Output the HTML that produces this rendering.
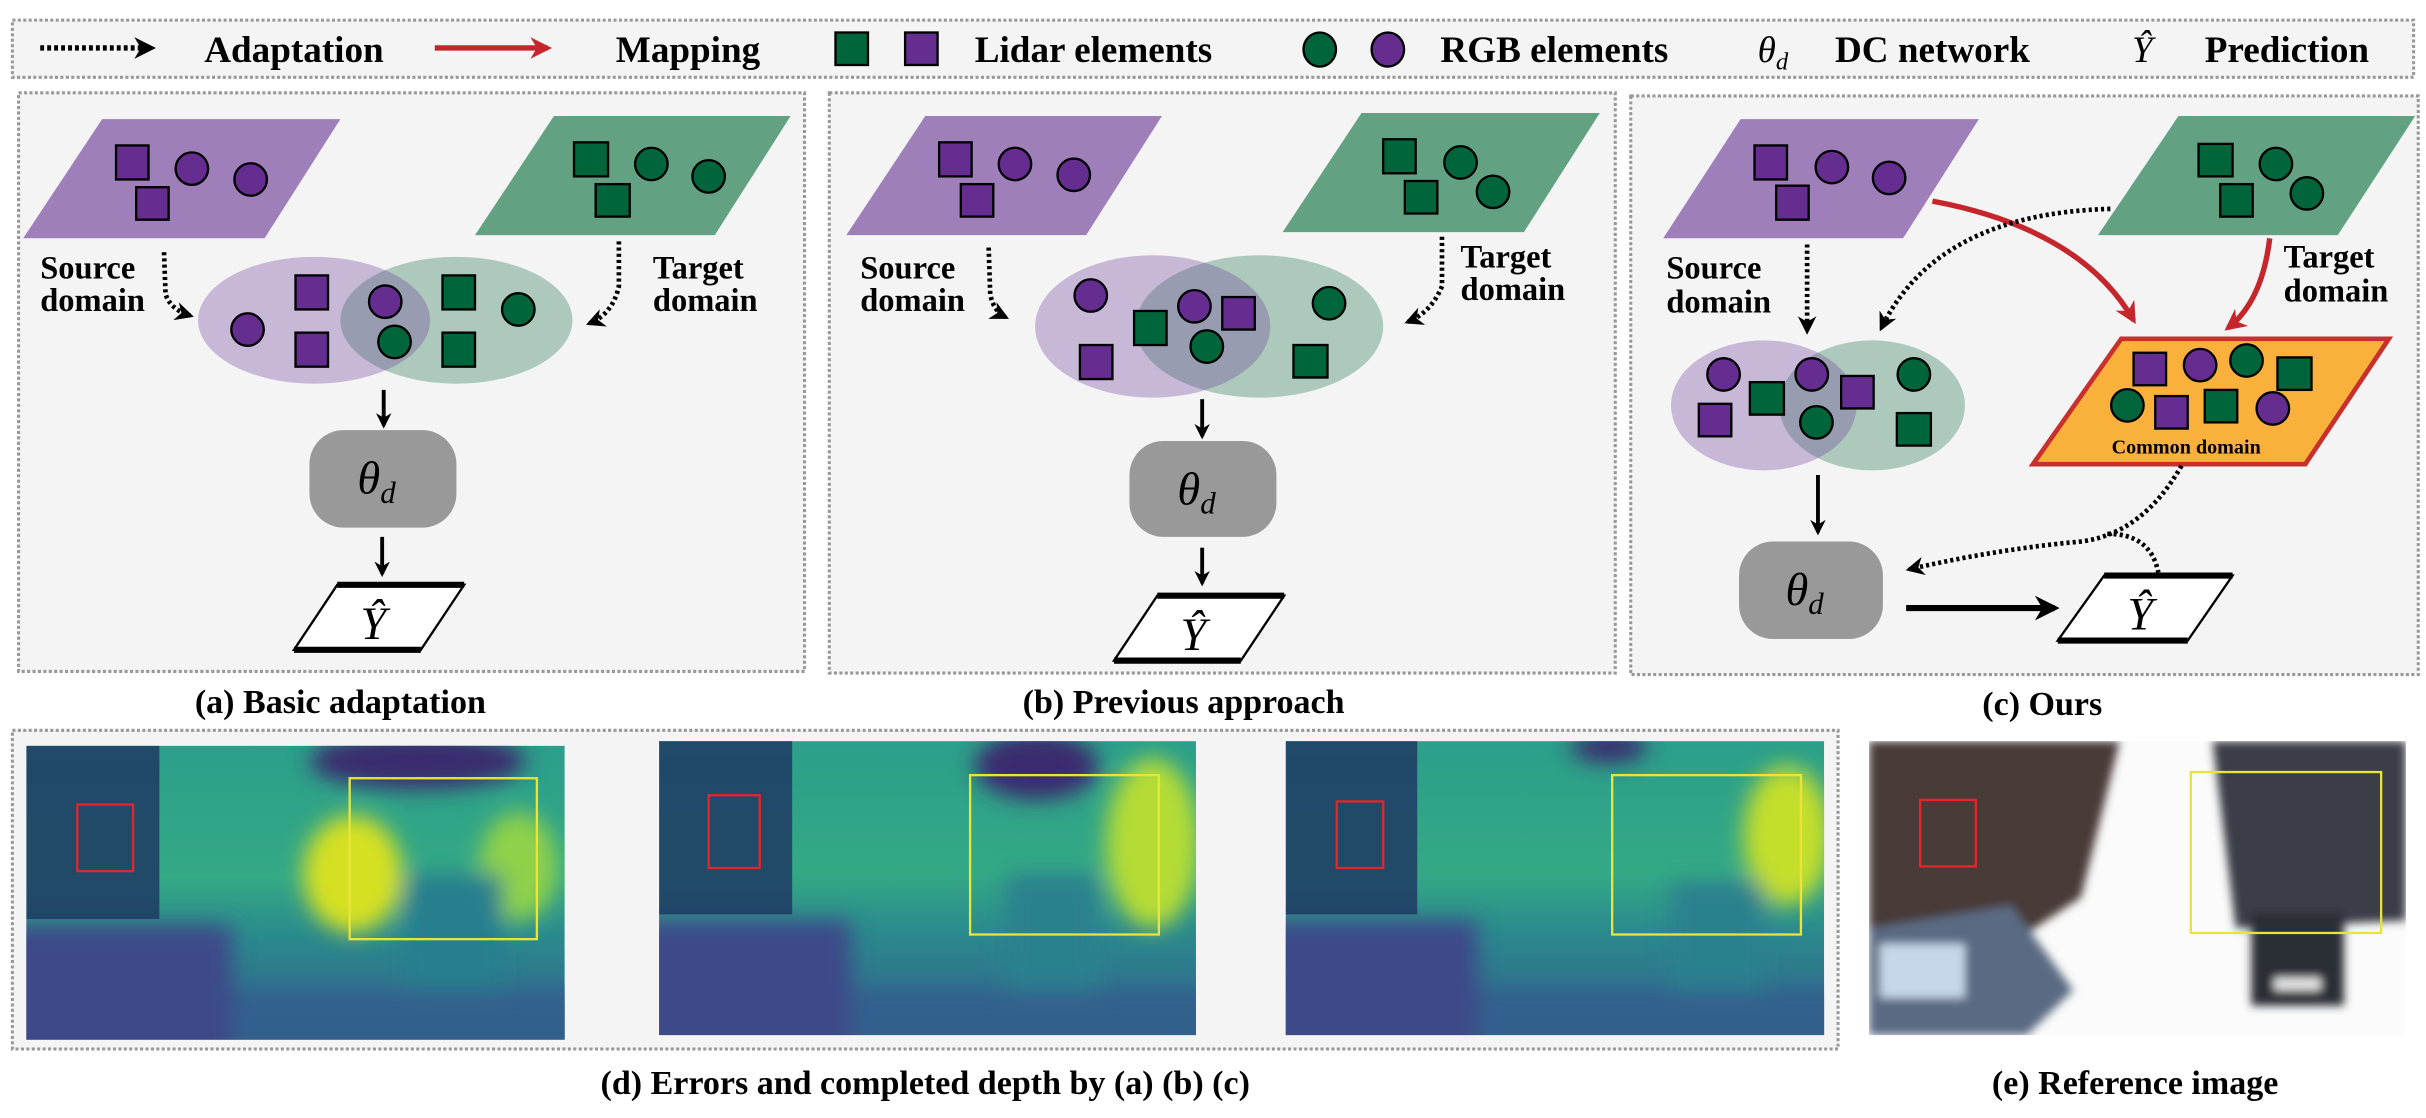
<!DOCTYPE html>
<html><head><meta charset="utf-8"><style>
html,body{margin:0;padding:0;background:#fff;}
svg{display:block;font-family:"Liberation Serif","Times New Roman","Noto Serif CJK SC",serif;}
svg text{font-family:"Liberation Serif","Times New Roman","Noto Serif CJK SC",serif;font-weight:bold;fill:#000;}
svg text.th{font-style:italic;font-weight:normal;}
</style></head><body>
<svg width="2426" height="1118" viewBox="0 0 1568 722.6" xmlns="http://www.w3.org/2000/svg">
<defs>
<marker id="ah" viewBox="0 0 10 10" refX="8" refY="5" markerWidth="4" markerHeight="4" orient="auto"><path d="M0,0 L10,5 L0,10 L3,5 z" fill="#000"/></marker>
<marker id="ahr" viewBox="0 0 10 10" refX="8" refY="5" markerWidth="4" markerHeight="4" orient="auto"><path d="M0,0 L10,5 L0,10 L3,5 z" fill="#c4262b"/></marker>
<filter id="bl" x="-50%" y="-50%" width="200%" height="200%"><feGaussianBlur stdDeviation="7"/></filter>
<filter id="bl2" x="-50%" y="-50%" width="200%" height="200%"><feGaussianBlur stdDeviation="3"/></filter>
<clipPath id="ca"><ellipse cx="203" cy="207" rx="75" ry="41"/></clipPath>
<clipPath id="cb"><ellipse cx="745" cy="211" rx="76" ry="46"/></clipPath>
<clipPath id="cc"><ellipse cx="1140" cy="262" rx="60" ry="42"/></clipPath>
<clipPath id="i1"><rect x="17" y="482" width="348" height="190"/></clipPath>
<clipPath id="i2"><rect x="426" y="479" width="347" height="190"/></clipPath>
<clipPath id="i3"><rect x="831" y="479" width="348" height="190"/></clipPath>
<clipPath id="i4"><rect x="1208" y="479" width="347" height="190"/></clipPath>
<linearGradient id="dg" x1="0" y1="0" x2="0" y2="1"><stop offset="0" stop-color="#2b9f8a"/><stop offset="0.45" stop-color="#34a985"/><stop offset="0.65" stop-color="#2a8a8d"/><stop offset="1" stop-color="#355f8d"/></linearGradient>
</defs>
<g fill="none" stroke="#999" stroke-width="2" stroke-dasharray="2 1.5">
<rect x="8" y="13" width="1552" height="37" fill="#f4f4f4"/>
<rect x="12" y="60" width="508" height="374" fill="#f4f4f4"/>
<rect x="536" y="60" width="508" height="375" fill="#f4f4f4"/>
<rect x="1054" y="62" width="509" height="374" fill="#f4f4f4"/>
<rect x="8" y="472" width="1180" height="206" fill="#f4f4f4"/>
</g>
<g>
<line x1="26" y1="31" x2="98" y2="31" stroke="#000" stroke-width="3.5" stroke-dasharray="2.5 2" marker-end="url(#ah)"/>
<text x="132" y="40" font-size="24">Adaptation</text>
<line x1="281" y1="31" x2="354" y2="31" stroke="#c4262b" stroke-width="3.5" marker-end="url(#ahr)"/>
<text x="398" y="40" font-size="24">Mapping</text>
<rect x="540" y="21" width="21" height="21" fill="#00653a" stroke="#000" stroke-width="1.5"/>
<rect x="585" y="21" width="21" height="21" fill="#662d91" stroke="#000" stroke-width="1.5"/>
<text x="630" y="40" font-size="24">Lidar elements</text>
<ellipse cx="853" cy="32" rx="10.5" ry="11" fill="#00653a" stroke="#000" stroke-width="1.5"/>
<ellipse cx="897" cy="32" rx="10.5" ry="11" fill="#662d91" stroke="#000" stroke-width="1.5"/>
<text x="931" y="40" font-size="24">RGB elements</text>
<text x="1136" y="40" font-size="24" class="th">θ<tspan font-size="16" dy="5">d</tspan></text>
<text x="1186" y="40" font-size="24">DC network</text>
<text x="1378" y="40" font-size="24" class="th">Ŷ</text>
<text x="1425" y="40" font-size="24">Prediction</text>
</g>
<g>
<polygon points="66,77 220,77 171,154 15,154" fill="#9f7fb9"/>
<rect x="75" y="94" width="21" height="22" fill="#662d91" stroke="#000" stroke-width="1.5"/>
<rect x="88" y="121" width="21" height="21" fill="#662d91" stroke="#000" stroke-width="1.5"/>
<circle cx="124" cy="109" r="10.5" fill="#662d91" stroke="#000" stroke-width="1.5"/>
<circle cx="162" cy="116" r="10.5" fill="#662d91" stroke="#000" stroke-width="1.5"/>
<polygon points="358,75 511,75 462,152 307,152" fill="#62a283"/>
<rect x="371" y="92" width="22" height="22" fill="#00653a" stroke="#000" stroke-width="1.5"/>
<rect x="385" y="119" width="22" height="21" fill="#00653a" stroke="#000" stroke-width="1.5"/>
<circle cx="421" cy="106" r="10.5" fill="#00653a" stroke="#000" stroke-width="1.5"/>
<circle cx="458" cy="114" r="10.5" fill="#00653a" stroke="#000" stroke-width="1.5"/>
<text x="26" y="180" font-size="21">Source</text><text x="26" y="201" font-size="21">domain</text>
<text x="422" y="180" font-size="21">Target</text><text x="422" y="201" font-size="21">domain</text>
<path d="M106,163 L107,190 Q110,200 123,204" fill="none" stroke="#000" stroke-width="3" stroke-dasharray="2 2" marker-end="url(#ah)"/>
<path d="M400,156 L400,185 Q396,203 381,209" fill="none" stroke="#000" stroke-width="3" stroke-dasharray="2 2" marker-end="url(#ah)"/>
<ellipse cx="203" cy="207" rx="75" ry="41" fill="#c8b8d8"/>
<ellipse cx="295" cy="207" rx="75" ry="41" fill="#adc9bb"/>
<ellipse cx="295" cy="207" rx="75" ry="41" fill="#979cb0" clip-path="url(#ca)"/>
<rect x="191" y="178" width="21" height="22" fill="#662d91" stroke="#000" stroke-width="1.5"/>
<rect x="191" y="215" width="21" height="22" fill="#662d91" stroke="#000" stroke-width="1.5"/>
<circle cx="160" cy="213" r="10.5" fill="#662d91" stroke="#000" stroke-width="1.5"/>
<circle cx="249" cy="195" r="10.5" fill="#662d91" stroke="#000" stroke-width="1.5"/>
<circle cx="255" cy="221" r="10.5" fill="#00653a" stroke="#000" stroke-width="1.5"/>
<rect x="286" y="178" width="21" height="22" fill="#00653a" stroke="#000" stroke-width="1.5"/>
<rect x="286" y="215" width="21" height="22" fill="#00653a" stroke="#000" stroke-width="1.5"/>
<circle cx="335" cy="200" r="10.5" fill="#00653a" stroke="#000" stroke-width="1.5"/>
<line x1="248" y1="252" x2="248" y2="275" stroke="#000" stroke-width="2.5" marker-end="url(#ah)"/>
<rect x="200" y="278" width="95" height="63" rx="22" fill="#999"/>
<text x="231" y="319" font-size="30" class="th">θ<tspan font-size="20" dy="6">d</tspan></text>
<line x1="247" y1="347" x2="247" y2="371" stroke="#000" stroke-width="2.5" marker-end="url(#ah)"/>
<polygon points="218,378 300,378 272,420 190,420" fill="#fff" stroke="#000" stroke-width="1.5"/>
<line x1="218" y1="378" x2="300" y2="378" stroke="#000" stroke-width="4"/><line x1="190" y1="420" x2="272" y2="420" stroke="#000" stroke-width="4"/>
<text x="233" y="413" font-size="30" class="th">Ŷ</text>
</g>
<text x="220" y="461" font-size="22" text-anchor="middle">(a) Basic adaptation</text>
<g>
<polygon points="598,75 751,75 702,152 547,152" fill="#9f7fb9"/>
<rect x="607" y="92" width="21" height="22" fill="#662d91" stroke="#000" stroke-width="1.5"/>
<rect x="621" y="119" width="21" height="21" fill="#662d91" stroke="#000" stroke-width="1.5"/>
<circle cx="656" cy="106" r="10.5" fill="#662d91" stroke="#000" stroke-width="1.5"/>
<circle cx="694" cy="113" r="10.5" fill="#662d91" stroke="#000" stroke-width="1.5"/>
<polygon points="880,73 1034,73 985,150 829,150" fill="#62a283"/>
<rect x="894" y="90" width="21" height="22" fill="#00653a" stroke="#000" stroke-width="1.5"/>
<rect x="908" y="117" width="21" height="21" fill="#00653a" stroke="#000" stroke-width="1.5"/>
<circle cx="944" cy="105" r="10.5" fill="#00653a" stroke="#000" stroke-width="1.5"/>
<circle cx="965" cy="124" r="10.5" fill="#00653a" stroke="#000" stroke-width="1.5"/>
<text x="556" y="180" font-size="21">Source</text><text x="556" y="201" font-size="21">domain</text>
<text x="944" y="173" font-size="21">Target</text><text x="944" y="194" font-size="21">domain</text>
<path d="M639,160 L640,190 Q642,201 650,205" fill="none" stroke="#000" stroke-width="3" stroke-dasharray="2 2" marker-end="url(#ah)"/>
<path d="M932,153 L932,185 Q925,202 910,208" fill="none" stroke="#000" stroke-width="3" stroke-dasharray="2 2" marker-end="url(#ah)"/>
<ellipse cx="745" cy="211" rx="76" ry="46" fill="#c8b8d8"/>
<ellipse cx="814" cy="211" rx="80" ry="46" fill="#adc9bb"/>
<ellipse cx="814" cy="211" rx="80" ry="46" fill="#979cb0" clip-path="url(#cb)"/>
<circle cx="705" cy="191" r="10.5" fill="#662d91" stroke="#000" stroke-width="1.5"/>
<rect x="698" y="223" width="21" height="22" fill="#662d91" stroke="#000" stroke-width="1.5"/>
<rect x="733" y="201" width="21" height="22" fill="#00653a" stroke="#000" stroke-width="1.5"/>
<circle cx="772" cy="198" r="10.5" fill="#662d91" stroke="#000" stroke-width="1.5"/>
<circle cx="780" cy="224" r="10.5" fill="#00653a" stroke="#000" stroke-width="1.5"/>
<rect x="790" y="192" width="21" height="21" fill="#662d91" stroke="#000" stroke-width="1.5"/>
<circle cx="859" cy="196" r="10.5" fill="#00653a" stroke="#000" stroke-width="1.5"/>
<rect x="836" y="223" width="22" height="21" fill="#00653a" stroke="#000" stroke-width="1.5"/>
<line x1="777" y1="258" x2="777" y2="282" stroke="#000" stroke-width="2.5" marker-end="url(#ah)"/>
<rect x="730" y="285" width="95" height="62" rx="22" fill="#999"/>
<text x="761" y="326" font-size="30" class="th">θ<tspan font-size="20" dy="6">d</tspan></text>
<line x1="777" y1="354" x2="777" y2="377" stroke="#000" stroke-width="2.5" marker-end="url(#ah)"/>
<polygon points="748,385 830,385 802,427 720,427" fill="#fff" stroke="#000" stroke-width="1.5"/>
<line x1="748" y1="385" x2="830" y2="385" stroke="#000" stroke-width="4"/><line x1="720" y1="427" x2="802" y2="427" stroke="#000" stroke-width="4"/>
<text x="763" y="420" font-size="30" class="th">Ŷ</text>
</g>
<text x="765" y="461" font-size="22" text-anchor="middle">(b) Previous approach</text>
<g>
<polygon points="1125,77 1279,77 1230,154 1075,154" fill="#9f7fb9"/>
<rect x="1134" y="94" width="21" height="22" fill="#662d91" stroke="#000" stroke-width="1.5"/>
<rect x="1148" y="120" width="21" height="22" fill="#662d91" stroke="#000" stroke-width="1.5"/>
<circle cx="1184" cy="108" r="10.5" fill="#662d91" stroke="#000" stroke-width="1.5"/>
<circle cx="1221" cy="115" r="10.5" fill="#662d91" stroke="#000" stroke-width="1.5"/>
<polygon points="1408,75 1561,75 1511,152 1356,152" fill="#62a283"/>
<rect x="1421" y="93" width="22" height="21" fill="#00653a" stroke="#000" stroke-width="1.5"/>
<rect x="1435" y="119" width="21" height="21" fill="#00653a" stroke="#000" stroke-width="1.5"/>
<circle cx="1471" cy="106" r="10.5" fill="#00653a" stroke="#000" stroke-width="1.5"/>
<circle cx="1491" cy="125" r="10.5" fill="#00653a" stroke="#000" stroke-width="1.5"/>
<text x="1077" y="180" font-size="21">Source</text><text x="1077" y="202" font-size="21">domain</text>
<text x="1476" y="173" font-size="21">Target</text><text x="1476" y="195" font-size="21">domain</text>
<path d="M1249,130 Q1345,148 1379,207" fill="none" stroke="#c4262b" stroke-width="3.5" marker-end="url(#ahr)"/>
<path d="M1467,154 Q1462,195 1440,212" fill="none" stroke="#c4262b" stroke-width="3.5" marker-end="url(#ahr)"/>
<path d="M1364,135 Q1252,138 1216,212" fill="none" stroke="#000" stroke-width="3" stroke-dasharray="2 2" marker-end="url(#ah)"/>
<line x1="1168" y1="158" x2="1168" y2="214" stroke="#000" stroke-width="3" stroke-dasharray="2 2" marker-end="url(#ah)"/>
<ellipse cx="1140" cy="262" rx="60" ry="42" fill="#c8b8d8"/>
<ellipse cx="1210" cy="262" rx="60" ry="42" fill="#adc9bb"/>
<ellipse cx="1210" cy="262" rx="60" ry="42" fill="#979cb0" clip-path="url(#cc)"/>
<circle cx="1114" cy="242" r="10.5" fill="#662d91" stroke="#000" stroke-width="1.5"/>
<rect x="1131" y="247" width="22" height="21" fill="#00653a" stroke="#000" stroke-width="1.5"/>
<circle cx="1171" cy="242" r="10.5" fill="#662d91" stroke="#000" stroke-width="1.5"/>
<rect x="1190" y="243" width="21" height="21" fill="#662d91" stroke="#000" stroke-width="1.5"/>
<circle cx="1174" cy="273" r="10.5" fill="#00653a" stroke="#000" stroke-width="1.5"/>
<circle cx="1237" cy="242" r="10.5" fill="#00653a" stroke="#000" stroke-width="1.5"/>
<rect x="1098" y="261" width="21" height="21" fill="#662d91" stroke="#000" stroke-width="1.5"/>
<rect x="1226" y="267" width="22" height="21" fill="#00653a" stroke="#000" stroke-width="1.5"/>
<polygon points="1371,219 1544,219 1490,300 1314,300" fill="#f9b13c" stroke="#c8302e" stroke-width="3"/>
<rect x="1379" y="228" width="21" height="21" fill="#662d91" stroke="#000" stroke-width="1.5"/>
<circle cx="1422" cy="236" r="10.5" fill="#662d91" stroke="#000" stroke-width="1.5"/>
<circle cx="1452" cy="233" r="10.5" fill="#00653a" stroke="#000" stroke-width="1.5"/>
<rect x="1472" y="231" width="22" height="21" fill="#00653a" stroke="#000" stroke-width="1.5"/>
<circle cx="1375" cy="262" r="10.5" fill="#00653a" stroke="#000" stroke-width="1.5"/>
<rect x="1393" y="256" width="21" height="21" fill="#662d91" stroke="#000" stroke-width="1.5"/>
<rect x="1425" y="252" width="21" height="21" fill="#00653a" stroke="#000" stroke-width="1.5"/>
<circle cx="1469" cy="264" r="10.5" fill="#662d91" stroke="#000" stroke-width="1.5"/>
<text x="1413" y="293" font-size="13" text-anchor="middle">Common domain</text>
<line x1="1175" y1="307" x2="1175" y2="344" stroke="#000" stroke-width="2.5" marker-end="url(#ah)"/>
<path d="M1410,301 Q1385,345 1345,350 Q1290,355 1234,368" fill="none" stroke="#000" stroke-width="3" stroke-dasharray="2 2" marker-end="url(#ah)"/>
<path d="M1362,345 Q1390,345 1395,370" fill="none" stroke="#000" stroke-width="3" stroke-dasharray="2 2"/>
<rect x="1124" y="350" width="93" height="63" rx="22" fill="#999"/>
<text x="1154" y="391" font-size="30" class="th">θ<tspan font-size="20" dy="6">d</tspan></text>
<line x1="1232" y1="393" x2="1328" y2="393" stroke="#000" stroke-width="4" marker-end="url(#ah)"/>
<polygon points="1360,372 1443,372 1414,414 1330,414" fill="#fff" stroke="#000" stroke-width="1.5"/>
<line x1="1360" y1="372" x2="1443" y2="372" stroke="#000" stroke-width="4"/><line x1="1330" y1="414" x2="1414" y2="414" stroke="#000" stroke-width="4"/>
<text x="1375" y="407" font-size="30" class="th">Ŷ</text>
</g>
<text x="1320" y="462" font-size="22" text-anchor="middle">(c) Ours</text>
<g clip-path="url(#i1)">
<rect x="17" y="482" width="348" height="190" fill="url(#dg)"/>
<g filter="url(#bl)">
<ellipse cx="228" cy="565" rx="32" ry="38" fill="#d6e021"/>
<ellipse cx="335" cy="560" rx="25" ry="35" fill="#8fd14a"/>
<ellipse cx="270" cy="492" rx="70" ry="18" fill="#3b2a6e"/>
<rect x="262" y="565" width="63" height="85" fill="#287f8e"/>
<rect x="0" y="640" width="400" height="50" fill="#31608d"/>
<rect x="0" y="598" width="150" height="90" fill="#3d4889"/>
</g>
<rect x="17" y="482" width="86" height="112" fill="#1e3a64" opacity="0.85"/>
<rect x="50" y="520" width="36" height="43" fill="none" stroke="#e3262b" stroke-width="1.5"/>
<rect x="226" y="503" width="121" height="104" fill="none" stroke="#e8e43a" stroke-width="1.5"/>
</g>
<g clip-path="url(#i2)">
<rect x="426" y="479" width="347" height="190" fill="url(#dg)"/>
<g filter="url(#bl)">
<ellipse cx="745" cy="545" rx="30" ry="55" fill="#b5dc34"/>
<ellipse cx="670" cy="495" rx="40" ry="22" fill="#3b2a6e"/>
<rect x="650" y="565" width="60" height="80" fill="#2a818e"/>
<rect x="400" y="640" width="400" height="50" fill="#31608d"/>
<rect x="400" y="595" width="150" height="90" fill="#3d4889"/>
</g>
<rect x="426" y="479" width="86" height="112" fill="#1e3a64" opacity="0.85"/>
<rect x="458" y="514" width="33" height="47" fill="none" stroke="#e3262b" stroke-width="1.5"/>
<rect x="627" y="501" width="122" height="103" fill="none" stroke="#e8e43a" stroke-width="1.5"/>
</g>
<g clip-path="url(#i3)">
<rect x="831" y="479" width="348" height="190" fill="url(#dg)"/>
<g filter="url(#bl)">
<ellipse cx="1155" cy="540" rx="28" ry="45" fill="#c4de2a"/>
<ellipse cx="1040" cy="483" rx="25" ry="10" fill="#3b2a6e"/>
<rect x="1080" y="570" width="60" height="75" fill="#2a818e"/>
<rect x="800" y="640" width="400" height="50" fill="#31608d"/>
<rect x="800" y="595" width="155" height="90" fill="#3d4889"/>
</g>
<rect x="831" y="479" width="85" height="112" fill="#1e3a64" opacity="0.85"/>
<rect x="864" y="518" width="30" height="43" fill="none" stroke="#e3262b" stroke-width="1.5"/>
<rect x="1042" y="501" width="122" height="103" fill="none" stroke="#e8e43a" stroke-width="1.5"/>
</g>
<g clip-path="url(#i4)">
<rect x="1208" y="479" width="347" height="190" fill="#fbfbfb"/>
<g filter="url(#bl2)">
<polygon points="1208,479 1370,479 1345,580 1300,610 1208,600" fill="#4a3a38"/>
<polygon points="1430,479 1555,479 1555,595 1445,600" fill="#3a3c46"/>
<polygon points="1208,600 1300,585 1340,640 1310,669 1208,669" fill="#5a6a82"/>
<rect x="1215" y="610" width="55" height="35" fill="#c8d6ea"/>
<rect x="1455" y="590" width="60" height="60" fill="#2c2e36"/>
<rect x="1470" y="632" width="30" height="8" fill="#e6e6e6"/>
</g>
<rect x="1241" y="517" width="36" height="43" fill="none" stroke="#e3262b" stroke-width="1.5"/>
<rect x="1416" y="499" width="123" height="104" fill="none" stroke="#e8e43a" stroke-width="1.5"/>
</g>
<text x="598" y="707" font-size="22" text-anchor="middle">(d) Errors and completed depth by (a) (b) (c)</text>
<text x="1380" y="707" font-size="22" text-anchor="middle">(e) Reference image</text>
</svg>
</body></html>
